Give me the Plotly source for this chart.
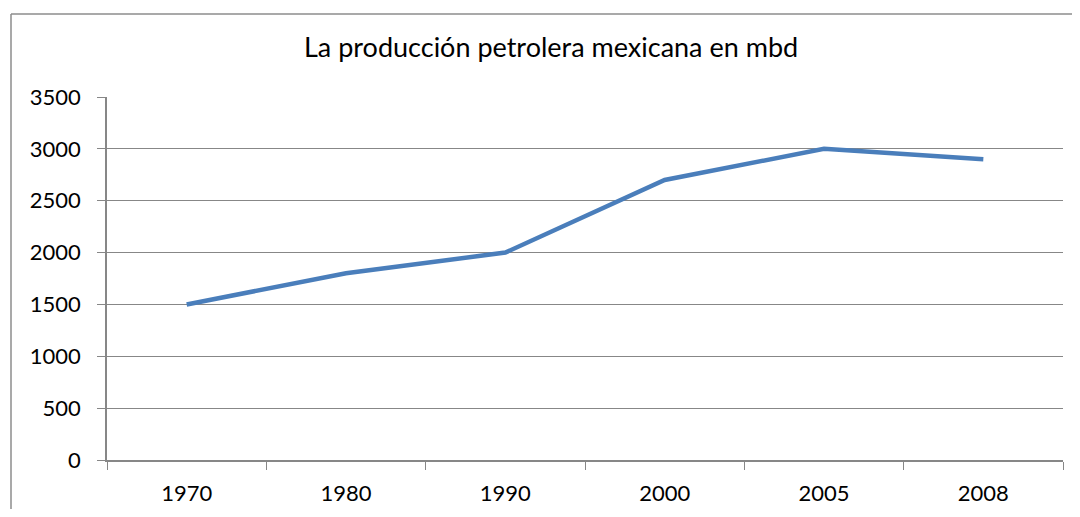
import plotly.graph_objects as go

years = ["1970", "1980", "1990", "2000", "2005", "2008"]
production = [1500, 1800, 2000, 2700, 3000, 2900]
title_text = "La producción petrolera mexicana en mbd"

OFF = 8  # page body margin offset
W, H = 1080 - 2 * OFF, 517 - 2 * OFF
L, R, T, B = 107 - OFF, 1063 - OFF, 97 - OFF, 460 - OFF
pw, ph = R - L, B - T

def px(x):
    return (x - OFF - L) / pw

def py(y):
    return (B - (y - OFF)) / ph

font_family = "Lato, Open Sans, sans-serif"
grid = "#878787"
border = "#8c8c8c"

fig = go.Figure()
fig.add_trace(go.Scatter(
    x=years, y=production, mode="lines",
    line=dict(color="#4A7EBB", width=4.5),
    hoverinfo="skip", showlegend=False,
))

fig.update_layout(
    width=W, height=H,
    margin=dict(l=L, r=W - R, t=T, b=H - B, autoexpand=False),
    paper_bgcolor="white", plot_bgcolor="white",
    font=dict(family=font_family, size=22, color="#000000"),
    xaxis=dict(
        type="category", tickson="boundaries", ticks="outside", ticklen=8,
        tickcolor=grid, showline=True, linecolor=grid, linewidth=1.5,
        showgrid=False, ticklabelstandoff=13, range=[-0.5, 5.5],
        fixedrange=True, automargin=False,
    ),
    yaxis=dict(
        range=[0, 3500], dtick=500, ticks="outside", ticklen=8,
        tickcolor=grid, showline=True, linecolor=grid, linewidth=1.5,
        showgrid=True, gridcolor=grid, gridwidth=1, zeroline=False,
        ticklabelstandoff=12, fixedrange=True, automargin=False,
    ),
    shapes=[
        dict(type="line", xref="paper", yref="paper",
             x0=px(11), x1=px(1080), y0=py(14), y1=py(14),
             line=dict(color=border, width=1.5), layer="below"),
        dict(type="line", xref="paper", yref="paper",
             x0=px(11), x1=px(11), y0=py(14), y1=py(517),
             line=dict(color=border, width=1.5), layer="below"),
    ],
    annotations=[dict(
        text=title_text, xref="paper", yref="paper",
        x=px(551), y=py(47), xanchor="center", yanchor="middle",
        showarrow=False, font=dict(size=27, color="#000000", family=font_family),
    )],
)

fig.write_html("out.html")
